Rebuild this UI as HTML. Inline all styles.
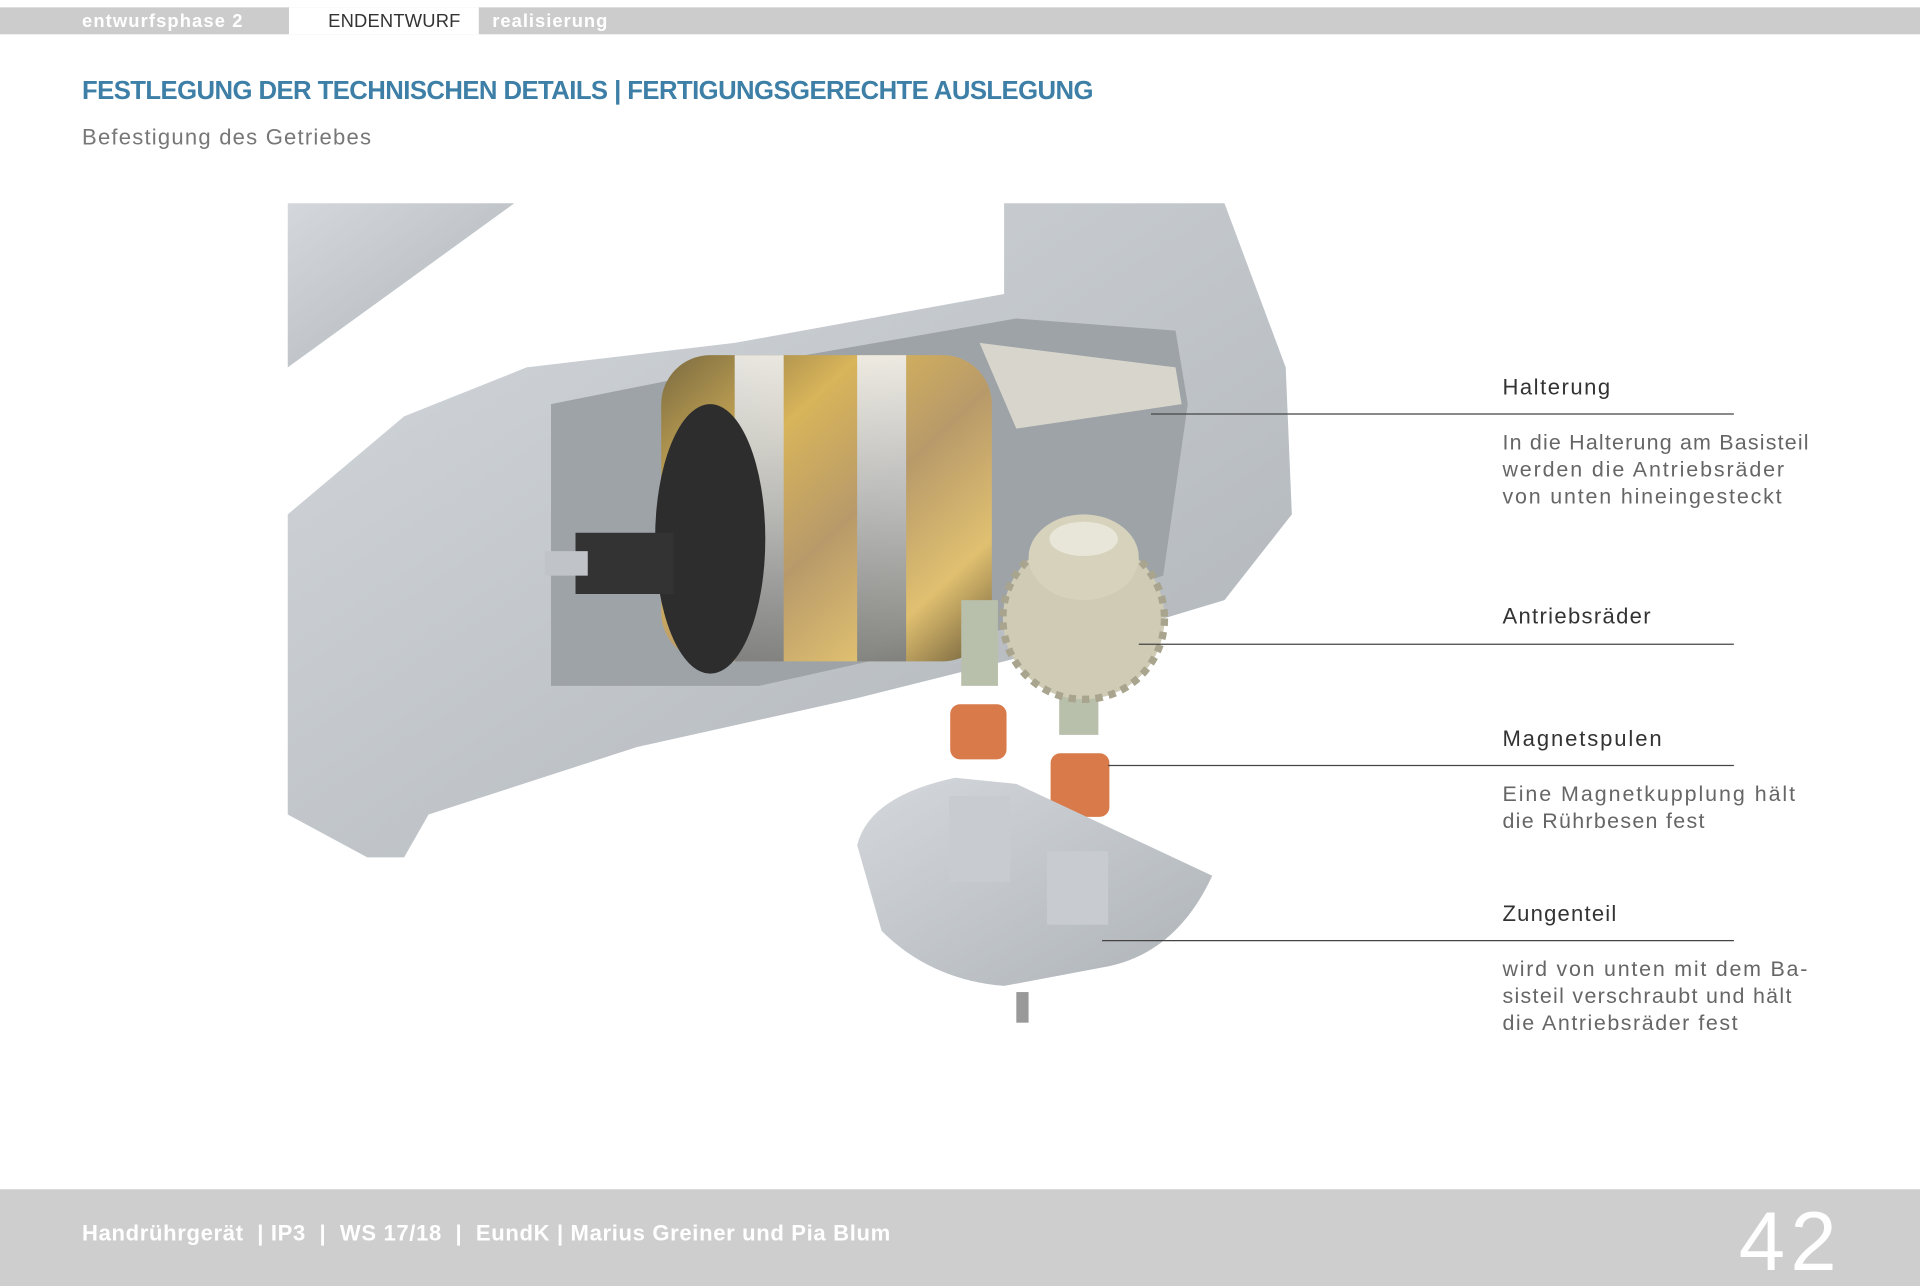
<!DOCTYPE html>
<html><head><meta charset="utf-8"><style>
html,body{margin:0;padding:0;background:#fff;width:1920px;height:1286px;overflow:hidden}
svg{display:block}
text{font-family:"Liberation Sans",sans-serif}
</style></head><body>
<svg width="1920" height="1286" viewBox="0 0 1568 1050" preserveAspectRatio="none">
<defs>
<linearGradient id="gold" x1="0" y1="0" x2="1" y2="1">
<stop offset="0" stop-color="#7a6a40"/><stop offset="0.3" stop-color="#d8b45a"/><stop offset="0.55" stop-color="#b89a6a"/><stop offset="0.8" stop-color="#e0c070"/><stop offset="1" stop-color="#6a5a38"/></linearGradient>
<linearGradient id="silver" x1="0" y1="0" x2="0" y2="1">
<stop offset="0" stop-color="#f0f0f0"/><stop offset="0.5" stop-color="#b8bcc0"/><stop offset="1" stop-color="#7a7e82"/></linearGradient>
<linearGradient id="plate" x1="0" y1="0" x2="1" y2="1">
<stop offset="0" stop-color="#d4d8dc"/><stop offset="1" stop-color="#aeb3b8"/></linearGradient>
</defs>
<rect x="0" y="6" width="1568" height="22" fill="#cccccc"/>
<rect x="236" y="6" width="155" height="22" fill="#fff"/>
<text x="67" y="22" font-size="15" font-weight="bold" fill="#fff" textLength="131">entwurfsphase 2</text>
<text x="268" y="22" font-size="15" fill="#333" textLength="108">ENDENTWURF</text>
<text x="402" y="22" font-size="15" font-weight="bold" fill="#fff" textLength="94">realisierung</text>
<text x="67" y="81" font-size="21" font-weight="bold" fill="#3d7fa6" textLength="826">FESTLEGUNG DER TECHNISCHEN DETAILS | FERTIGUNGSGERECHTE AUSLEGUNG</text>
<text x="67" y="118" font-size="18" fill="#777" textLength="236">Befestigung des Getriebes</text>
<polygon points="235,166 420,166 235,300" fill="url(#plate)"/>
<polygon points="235,420 330,340 430,300 600,280 820,240 820,166 1000,166 1050,300 1055,420 1000,490 900,520 700,570 520,610 350,665 330,700 300,700 235,665" fill="url(#plate)"/>
<polygon points="450,330 600,300 830,260 960,270 970,330 950,470 800,520 620,560 450,560" fill="#9ea3a8"/>
<polygon points="800,280 960,300 965,330 830,350" fill="#d8d6cc"/>
<rect x="540" y="290" width="270" height="250" rx="40" fill="url(#gold)"/>
<rect x="600" y="290" width="40" height="250" fill="url(#silver)" opacity="0.9"/>
<rect x="700" y="290" width="40" height="250" fill="url(#silver)" opacity="0.9"/>
<ellipse cx="580" cy="440" rx="45" ry="110" fill="#2d2d2d"/>
<rect x="470" y="435" width="80" height="50" fill="#333"/>
<rect x="445" y="450" width="35" height="20" fill="#c0c4c8"/>
<rect x="785" y="490" width="30" height="70" fill="#b8bfaa"/>
<rect x="865" y="510" width="32" height="90" fill="#b8bfaa"/>
<circle cx="885" cy="505" r="66" fill="#cfcbb4" stroke="#a8a48e" stroke-width="6" stroke-dasharray="6 5"/>
<ellipse cx="885" cy="455" rx="45" ry="35" fill="#d6d2bc"/>
<ellipse cx="885" cy="440" rx="28" ry="14" fill="#e8e6d8"/>
<rect x="776" y="575" width="46" height="45" rx="8" fill="#d97a4a"/>
<rect x="858" y="615" width="48" height="52" rx="8" fill="#d97a4a"/>
<path d="M700,690 Q710,650 780,635 L830,640 L990,715 Q960,780 900,790 L820,805 Q760,800 720,760 Z" fill="url(#plate)"/>
<rect x="775" y="650" width="50" height="70" fill="#c8ccd0"/>
<rect x="855" y="695" width="50" height="60" fill="#c8ccd0"/>
<rect x="830" y="810" width="10" height="25" fill="#999"/>
<g font-size="18" fill="#333">
<text x="1227" y="322" textLength="88">Halterung</text>
<text x="1227" y="509" textLength="121">Antriebsräder</text>
<text x="1227" y="609" textLength="130">Magnetspulen</text>
<text x="1227" y="752" textLength="93">Zungenteil</text>
</g>
<g font-size="17.5" fill="#666">
<text x="1227" y="367" textLength="250">In die Halterung am Basisteil</text>
<text x="1227" y="389" textLength="230">werden die Antriebsräder</text>
<text x="1227" y="411" textLength="228">von unten hineingesteckt</text>
<text x="1227" y="654" textLength="239">Eine Magnetkupplung hält</text>
<text x="1227" y="676" textLength="165">die Rührbesen fest</text>
<text x="1227" y="797" textLength="249">wird von unten mit dem Ba-</text>
<text x="1227" y="819" textLength="236">sisteil verschraubt und hält</text>
<text x="1227" y="841" textLength="192">die Antriebsräder fest</text>
</g>
<g stroke="#444" stroke-width="1">
<line x1="940" y1="338" x2="1416" y2="338"/>
<line x1="930" y1="526" x2="1416" y2="526"/>
<line x1="905" y1="625" x2="1416" y2="625"/>
<line x1="900" y1="768" x2="1416" y2="768"/>
</g>
<rect x="0" y="971" width="1568" height="79" fill="#cecece"/>
<text x="67" y="1013" font-size="18" font-weight="bold" fill="#fff" xml:space="preserve" textLength="660">Handrührgerät  | IP3  |  WS 17/18  |  EundK | Marius Greiner und Pia Blum</text>
<text x="1420" y="1037" font-size="68" fill="#fff" textLength="80">42</text>
</svg>
</body></html>
